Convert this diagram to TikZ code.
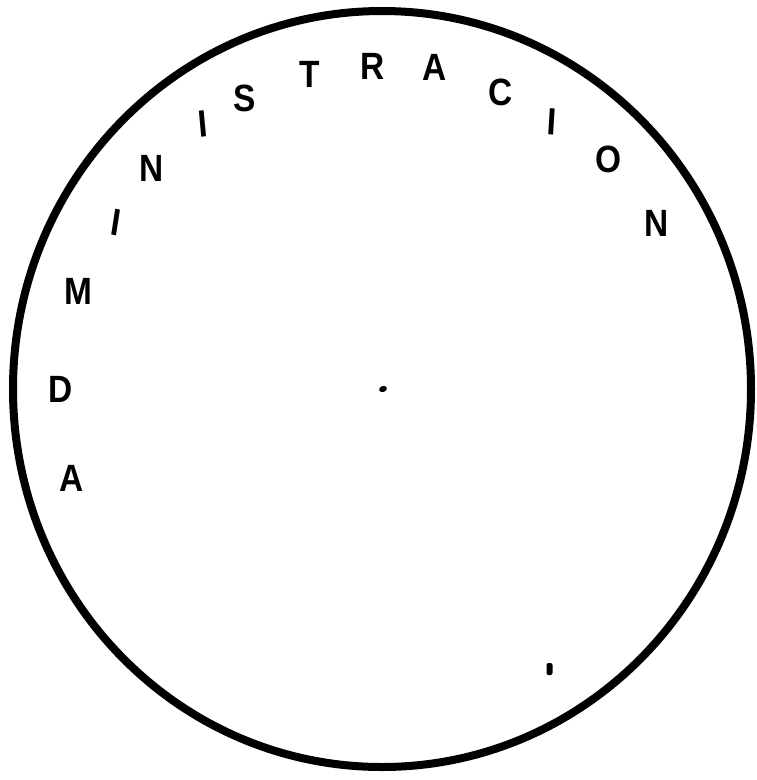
\documentclass[tikz,border=0pt]{standalone}
\usepackage{fontspec}
\setmainfont{Liberation Sans}
\begin{document}
\begin{tikzpicture}[x=1pt,y=-1pt,
  ltr/.style={font=\fontsize{38}{38}\selectfont\bfseries, inner sep=0pt, xscale=0.88},
  rim/.style={line width=8pt}]
\useasboundingbox (0,0) rectangle (756,780);
\draw[rim] (382,389) ellipse [x radius=369, y radius=378];
\node[ltr] (a1) at (72,478) {A};
\node[ltr] (d) at (61,389) {D};
\node[ltr] (m) at (78,291) {M};
\node[ltr, rotate=-10] (i1) at (116,223) {I};
\node[ltr] (n1) at (152,168) {N};
\node[ltr, rotate=6] (i2) at (203,124) {I};
\node[ltr] (s) at (245,98) {S};
\node[ltr] (t) at (310,74) {T};
\node[ltr] (r) at (373,66) {R};
\node[ltr] (a2) at (435,67) {A};
\node[ltr] (c) at (501,92) {C};
\node[ltr, rotate=-4] (i3) at (552,122) {I};
\node[ltr] (o) at (609,159) {O};
\node[ltr] (n2) at (657,223) {N};
\fill[rotate around={20:(383,389)}] (383,389) ellipse [x radius=4, y radius=3];
\fill[rounded corners=2pt] (546.5,663) rectangle (552.5,675);
\end{tikzpicture}
\end{document}
